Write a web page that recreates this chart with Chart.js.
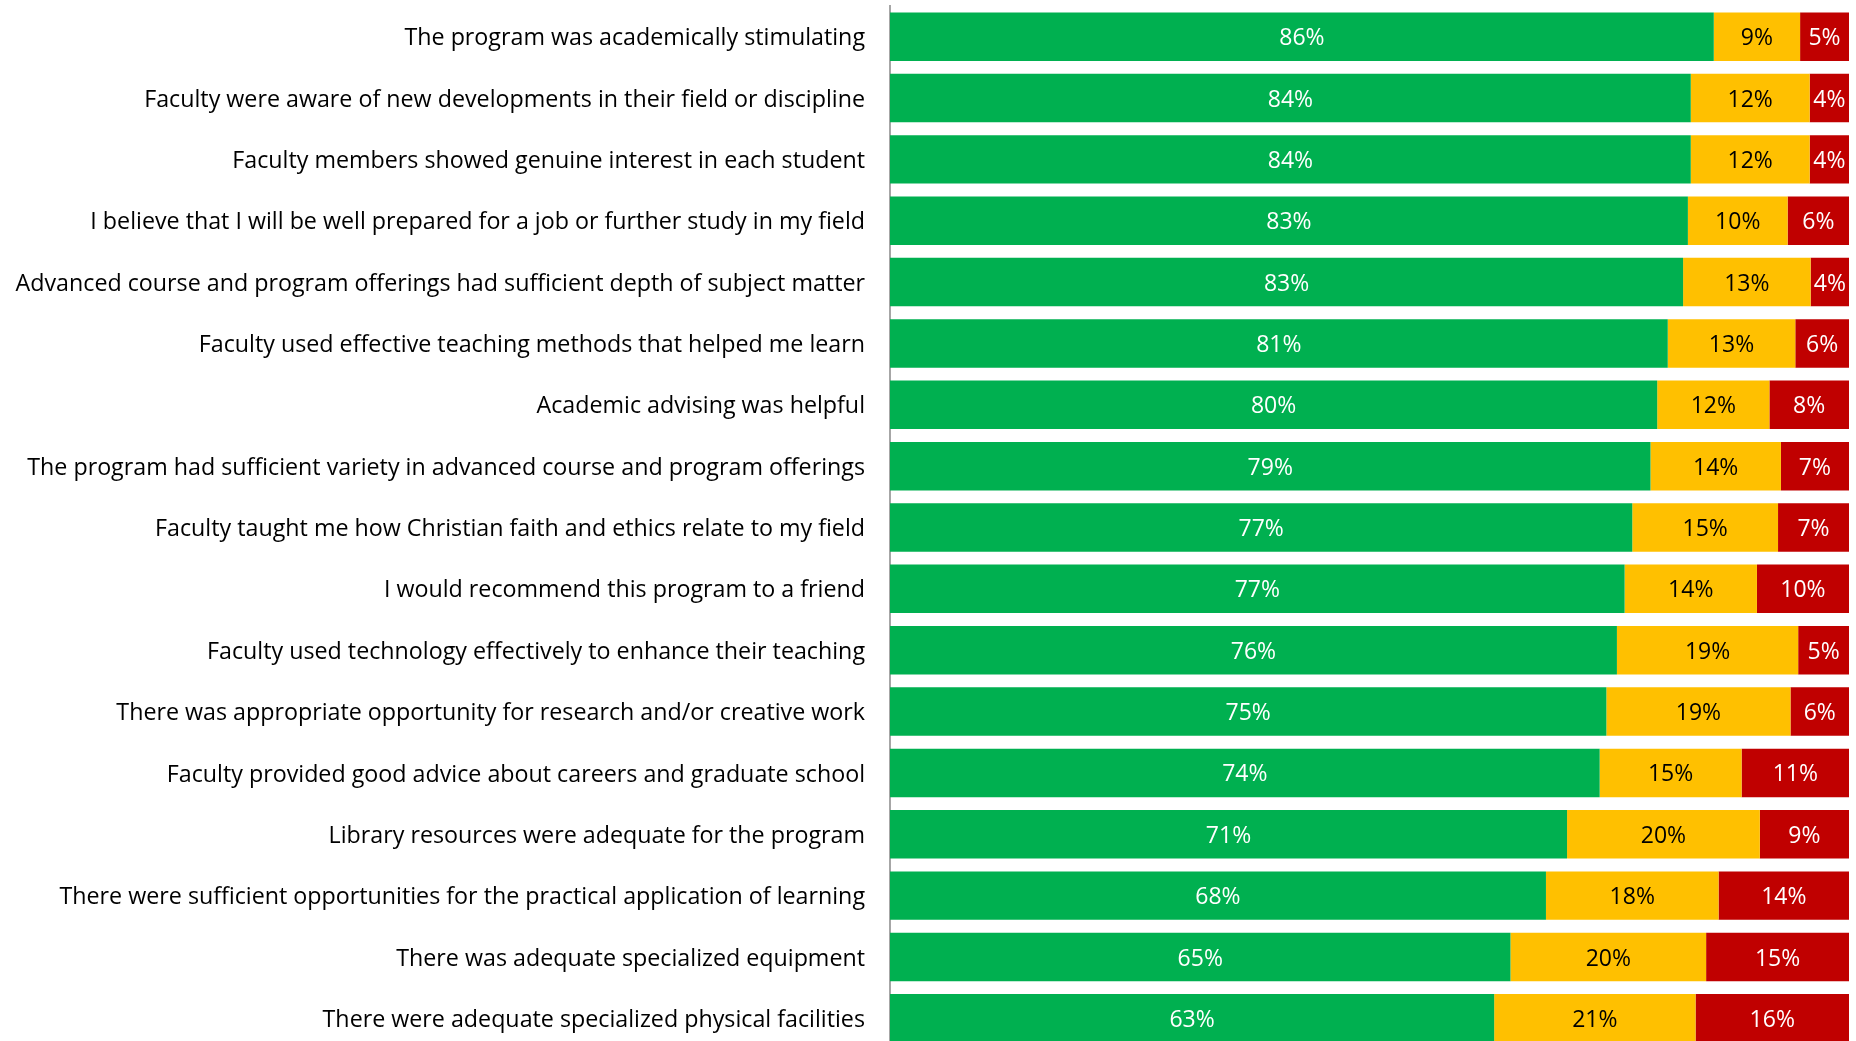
<!DOCTYPE html>
<html>
<head>
<meta charset="utf-8">
<script src="https://cdn.jsdelivr.net/npm/chart.js@4"></script>
<style>
  html, body { margin: 0; padding: 0; background: #fff; overflow: hidden; }
  #wrap { position: relative; width: 1856px; height: 1056px; }
</style>
</head>
<body>
<div id="wrap"><canvas id="cSurvey"></canvas></div>
<script>
// Program survey — agree / neutral / disagree shares per statement
const statements = [
  'The program was academically stimulating',
  'Faculty were aware of new developments in their field or discipline',
  'Faculty members showed genuine interest in each student',
  'I believe that I will be well prepared for a job or further study in my field',
  'Advanced course and program offerings had sufficient depth of subject matter',
  'Faculty used effective teaching methods that helped me learn',
  'Academic advising was helpful',
  'The program had sufficient variety in advanced course and program offerings',
  'Faculty taught me how Christian faith and ethics relate to my field',
  'I would recommend this program to a friend',
  'Faculty used technology effectively to enhance their teaching',
  'There was appropriate opportunity for research and/or creative work',
  'Faculty provided good advice about careers and graduate school',
  'Library resources were adequate for the program',
  'There were sufficient opportunities for the practical application of learning',
  'There was adequate specialized equipment',
  'There were adequate specialized physical facilities'
];

const agree    = [85.9, 83.5, 83.5, 83.2, 82.7, 81.1, 80.0, 79.3, 77.4, 76.6, 75.8, 74.7, 74.0, 70.6, 68.4, 64.7, 63.0];
const neutral  = [ 9.0, 12.4, 12.4, 10.4, 13.3, 13.3, 11.7, 13.6, 15.2, 13.8, 18.9, 19.2, 14.8, 20.1, 18.0, 20.4, 21.0];
const disagree = [ 5.1,  4.1,  4.1,  6.4,  4.0,  5.6,  8.3,  7.1,  7.4,  9.6,  5.3,  6.1, 11.2,  9.3, 13.6, 14.9, 16.0];

const FONT = '"Open Sans", Lato, sans-serif';

// draws the rounded % in the middle of every segment
const segmentLabels = {
  id: 'segmentLabels',
  afterDatasetsDraw(chart) {
    const ctx = chart.ctx;
    ctx.save();
    ctx.font = '23px ' + FONT;
    ctx.textAlign = 'center';
    ctx.textBaseline = 'middle';
    chart.data.datasets.forEach((ds, i) => {
      const meta = chart.getDatasetMeta(i);
      meta.data.forEach((bar, j) => {
        const v = ds.data[j];
        const x = (bar.x + bar.base) / 2;
        ctx.fillStyle = ds.labelColor;
        ctx.fillText(Math.round(v) + '%', x, bar.y + 2);
      });
    });
    ctx.restore();
  }
};

new Chart(document.getElementById('cSurvey'), {
  type: 'bar',
  data: {
    labels: statements,
    datasets: [
      { label: 'Agree', data: agree, backgroundColor: '#00B050', labelColor: '#ffffff' },
      { label: 'Neutral', data: neutral, backgroundColor: '#FFC000', labelColor: '#000000' },
      { label: 'Disagree', data: disagree, backgroundColor: '#C00000', labelColor: '#ffffff' }
    ]
  },
  options: {
    indexAxis: 'y',
    responsive: true,
    maintainAspectRatio: false,
    animation: false,
    layout: { padding: { top: 6, right: 7, bottom: 7, left: 0 } },
    datasets: { bar: { categoryPercentage: 1, barPercentage: 0.79, borderWidth: 0 } },
    plugins: { legend: { display: false }, tooltip: { enabled: false } },
    scales: {
      x: { stacked: true, min: 0, max: 100, display: false },
      y: {
        stacked: true,
        afterFit(scale) {
          scale.width = 890;
          scale.paddingTop = 0;
          scale.paddingBottom = 0;
        },
        grid: { display: false, drawTicks: false },
        border: { display: true, color: '#A6A6A6', width: 2 },
        ticks: { color: '#000000', padding: 25, labelOffset: 2, font: { family: FONT, size: 23.25 }, autoSkip: false }
      }
    }
  },
  plugins: [segmentLabels]
});
</script>
</body>
</html>
